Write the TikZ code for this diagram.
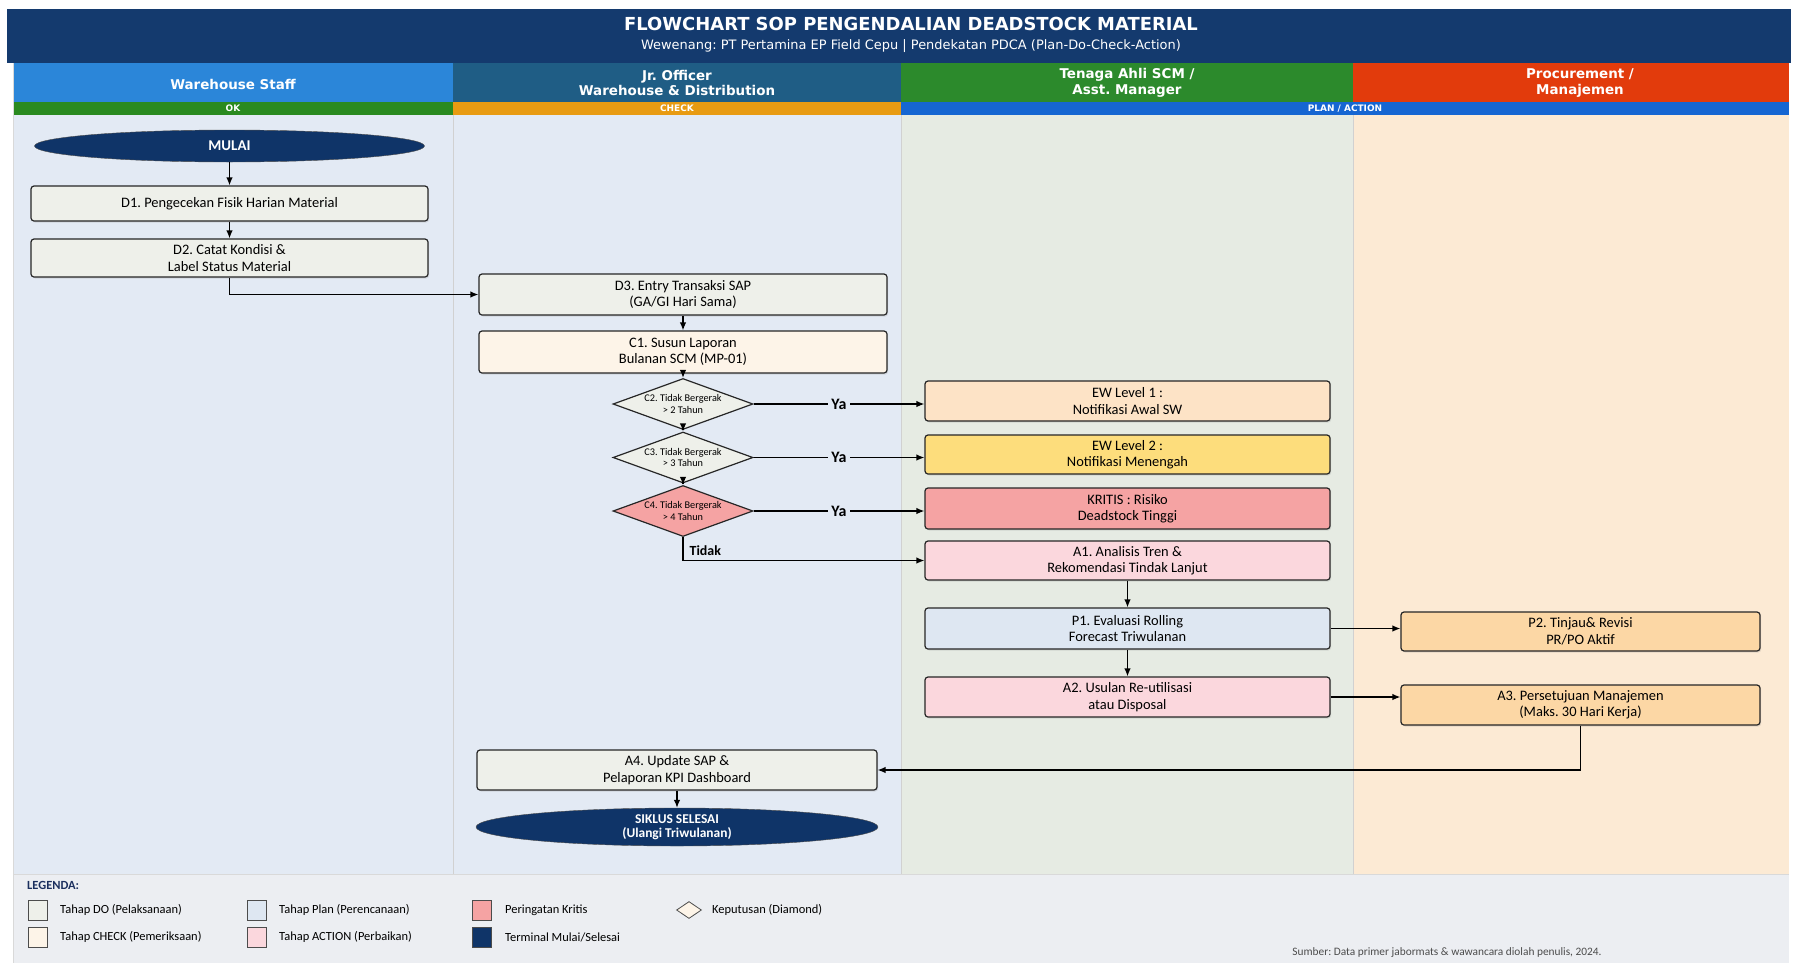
\documentclass[tikz,border=0pt]{standalone}
\usepackage{fontspec}
\setmainfont{Carlito}
\newfontfamily\hdrfont{DejaVu Sans}
\usepackage{tikz}
\usetikzlibrary{shapes.geometric,arrows.meta,shadows}

\definecolor{titlebar}{HTML}{143A6E}
\definecolor{hdrstaff}{HTML}{2B86D9}
\definecolor{hdrofficer}{HTML}{1F5D85}
\definecolor{hdrahli}{HTML}{2C8A2C}
\definecolor{hdrproc}{HTML}{E23B0C}
\definecolor{phaseok}{HTML}{2A8A1F}
\definecolor{phasecheck}{HTML}{E89B12}
\definecolor{phaseplan}{HTML}{1666D2}
\definecolor{laneblue}{HTML}{E3EAF4}
\definecolor{lanegreen}{HTML}{E6EBE3}
\definecolor{lanepeach}{HTML}{FCEAD4}
\definecolor{legendbg}{HTML}{ECEEF2}
\definecolor{legendhd}{HTML}{1B2F5E}
\definecolor{dofill}{HTML}{EEF0EA}
\definecolor{checkfill}{HTML}{FDF4E8}
\definecolor{planfill}{HTML}{DEE7F2}
\definecolor{actfill}{HTML}{FBD7DD}
\definecolor{critfill}{HTML}{F5A3A3}
\definecolor{ewonefill}{HTML}{FDE3C6}
\definecolor{ewtwofill}{HTML}{FDDD7C}
\definecolor{procfill}{HTML}{FCD7A5}
\definecolor{termfill}{HTML}{0F3468}

\begin{document}
\frenchspacing
\begin{tikzpicture}[x=1bp,y=-1bp,
   box/.style={draw=black!85, line width=1.2bp, rounded corners=3bp, align=center, inner ysep=2bp,
      font=\fontsize{14.5}{16.5}\selectfont,
      drop shadow={shadow xshift=1.2bp, shadow yshift=-1.5bp, opacity=0.2}},
   decision/.style={diamond, draw=black!85, line width=1.2bp, inner xsep=-5bp, inner ysep=-2bp, aspect=2.6,
      minimum width=140bp, minimum height=51bp, align=center, font=\fontsize{10.3}{11.5}\selectfont},
   terminal/.style={ellipse, draw=black!70, fill=termfill, text=white, align=center, inner sep=0pt},
   flow/.style={black, line width=1.3bp, -{Latex[length=8bp,width=6.5bp]}},
   lanehdr/.style={text=white, align=center, font=\hdrfont\bfseries\fontsize{13.5}{15.5}\selectfont},
   phasetxt/.style={text=white, font=\hdrfont\bfseries\fontsize{9}{10}\selectfont},
   yes/.style={fill=laneblue, inner sep=3bp, font=\bfseries\fontsize{16}{18}\selectfont},
   legbox/.style={draw=black!70, line width=0.8bp, minimum width=19bp, minimum height=20bp, inner sep=0pt, anchor=west},
   legtext/.style={right, font=\fontsize{12.5}{14}\selectfont, inner sep=0pt}]
  \useasboundingbox (0,0) rectangle (1798,963);
  \fill[white] (0,0) rectangle (1798,963);
  \fill[titlebar] (7,9) rectangle (1791,63);
   \node[text=white, font=\hdrfont\bfseries\fontsize{18}{21}\selectfont] (title) at (911,24) {FLOWCHART SOP PENGENDALIAN DEADSTOCK MATERIAL};
   \node[text=white, font=\hdrfont\fontsize{13}{15}\selectfont] (subtitle) at (911,46) {Wewenang: PT Pertamina EP Field Cepu | Pendekatan PDCA (Plan-Do-Check-Action)};
  % lanes
  \fill[hdrstaff] (13,63) rectangle (453,102);
  \fill[hdrofficer] (453,63) rectangle (901,102);
  \fill[hdrahli] (901,63) rectangle (1353,102);
  \fill[hdrproc] (1353,63) rectangle (1789,102);
   \node[lanehdr] (hstaff) at (233,84) {Warehouse Staff};
   \node[lanehdr] (hofficer) at (677,83) {Jr. Officer\\Warehouse \& Distribution};
   \node[lanehdr] (hahli) at (1127,83) {Tenaga Ahli SCM /\\Asst. Manager};
   \node[lanehdr] (hproc) at (1580,83) {Procurement /\\Manajemen};
  \fill[phaseok] (13,102) rectangle (453,115);
  \fill[phasecheck] (453,102) rectangle (901,115);
  \fill[phaseplan] (901,102) rectangle (1789,115);
   \node[phasetxt] (pok) at (233,108.5) {OK};
   \node[phasetxt] (pcheck) at (677,108.5) {CHECK};
   \node[phasetxt] (pplan) at (1345,108.5) {PLAN / ACTION};
  \fill[laneblue] (13,115) rectangle (901,874);
  \fill[lanegreen] (901,115) rectangle (1353,874);
  \fill[lanepeach] (1353,115) rectangle (1789,874);
  \fill[legendbg] (13,874) rectangle (1789,963);
  \draw[black!18, line width=0.7bp] (453,115) -- (453,874) (901,115) -- (901,874) (1353,115) -- (1353,874);
  \draw[black!15, line width=0.7bp] (13,63) -- (13,963) (13,874) -- (1789,874);

  \node[terminal, minimum width=390bp, minimum height=32bp, font=\bfseries\fontsize{15}{17}\selectfont] (mulai) at (229.5,146) {MULAI};
  \node[box, fill=dofill, minimum width=397bp, minimum height=35bp] (d1) at (229.5,203.5) {D1. Pengecekan Fisik Harian Material};
  \node[box, fill=dofill, minimum width=397bp, minimum height=38bp] (d2) at (229.5,258) {D2. Catat Kondisi \&\\Label Status Material};
  \node[box, fill=dofill, minimum width=408bp, minimum height=41bp] (d3) at (683,294.5) {D3. Entry Transaksi SAP\\(GA/GI Hari Sama)};
  \node[box, fill=checkfill, minimum width=408bp, minimum height=42bp] (c1) at (683,352) {C1. Susun Laporan\\Bulanan SCM (MP-01)};
  \node[decision, fill=dofill] (c2) at (683,404) {C2. Tidak Bergerak\\> 2 Tahun};
  \node[decision, fill=dofill] (c3) at (683,457.5) {C3. Tidak Bergerak\\> 3 Tahun};
  \node[decision, fill=critfill] (c4) at (683,511) {C4. Tidak Bergerak\\> 4 Tahun};

  \node[box, fill=ewonefill, minimum width=405bp, minimum height=40bp] (ew1) at (1127.5,401) {EW Level 1 :\\Notifikasi Awal SW};
  \node[box, fill=ewtwofill, minimum width=405bp, minimum height=39bp] (ew2) at (1127.5,454.5) {EW Level 2 :\\Notifikasi Menengah};
  \node[box, fill=critfill, minimum width=405bp, minimum height=41bp] (kritis) at (1127.5,508.5) {KRITIS : Risiko\\Deadstock Tinggi};
  \node[box, fill=actfill, minimum width=405bp, minimum height=39bp] (a1) at (1127.5,560.5) {A1. Analisis Tren \&\\Rekomendasi Tindak Lanjut};
  \node[box, fill=planfill, minimum width=405bp, minimum height=41bp] (p1) at (1127.5,628.5) {P1. Evaluasi Rolling\\Forecast Triwulanan};
  \node[box, fill=actfill, minimum width=405bp, minimum height=40bp] (a2) at (1127.5,697) {A2. Usulan Re-utilisasi\\atau Disposal};
  \node[box, fill=procfill, minimum width=359bp, minimum height=39bp] (p2) at (1580.5,631.5) {P2. Tinjau\& Revisi\\PR/PO Aktif};
  \node[box, fill=procfill, minimum width=359bp, minimum height=40bp] (a3) at (1580.5,705) {A3. Persetujuan Manajemen\\(Maks. 30 Hari Kerja)};
  \node[box, fill=dofill, minimum width=400bp, minimum height=40bp] (a4) at (677,770) {A4. Update SAP \&\\Pelaporan KPI Dashboard};
  \node[terminal, minimum width=402bp, minimum height=38bp, font=\bfseries\fontsize{13.5}{14.5}\selectfont] (selesai) at (677,827) {SIKLUS SELESAI\\(Ulangi Triwulanan)};

  \draw[flow] (mulai) -- (d1);
  \draw[flow] (d1) -- (d2);
  \draw[flow] (d2.south) |- (d3.west);
  \draw[flow] (d3) -- (c1);
  \draw[flow] (c1) -- (c2);
  \draw[flow] (c2) -- (c3);
  \draw[flow] (c3) -- (c4);
  \draw[flow] (c2.east) -- node[yes] {Ya} (c2.east -| ew1.west);
  \draw[flow] (c3.east) -- node[yes] {Ya} (c3.east -| ew2.west);
  \draw[flow] (c4.east) -- node[yes] {Ya} (c4.east -| kritis.west);
  \draw[flow] (c4.south) |- node[pos=0.5, above right, inner xsep=6bp, inner ysep=4bp, font=\bfseries\fontsize{14}{16}\selectfont] {Tidak} (a1.west);
  \draw[flow] (a1) -- (p1);
  \draw[flow] (p1.east) -- (p1.east -| p2.west);
  \draw[flow] (p1) -- (a2);
  \draw[flow] (a2.east) -- (a2.east -| a3.west);
  \draw[flow] (a3.south) |- (a4.east);
  \draw[flow] (a4) -- (selesai);

  % legend
  \node[right, inner sep=0pt, text=legendhd, font=\bfseries\fontsize{12.5}{14}\selectfont] (legenda) at (27,885) {LEGENDA:};
  \node[legbox, fill=dofill] (lgdo) at (27.5,910) {};
  \node[legtext] (lgdotx) at (60,910) {Tahap DO (Pelaksanaan)};
  \node[legbox, fill=checkfill] (lgcheck) at (27.5,937) {};
  \node[legtext] (lgchecktx) at (60,937) {Tahap CHECK (Pemeriksaan)};
  \node[legbox, fill=planfill] (lgplan) at (246.5,910) {};
  \node[legtext] (lgplantx) at (279,910) {Tahap Plan (Perencanaan)};
  \node[legbox, fill=actfill] (lgact) at (246.5,937) {};
  \node[legtext] (lgacttx) at (279,937) {Tahap ACTION (Perbaikan)};
  \node[legbox, fill=critfill] (lgcrit) at (472,910) {};
  \node[legtext] (lgcrittx) at (505,910) {Peringatan Kritis};
  \node[legbox, fill=termfill] (lgterm) at (472,937) {};
  \node[legtext] (lgtermtx) at (505,937) {Terminal Mulai/Selesai};
  \node[diamond, draw=black!70, line width=0.8bp, fill=checkfill, inner sep=0pt, minimum width=25bp, minimum height=17bp] (lgdec) at (689,910) {};
  \node[legtext] (lgdectx) at (712,910) {Keputusan (Diamond)};
  \node[text=black!70, font=\fontsize{11.4}{13}\selectfont] (sumber) at (1447,953) {Sumber: Data primer jabormats \& wawancara diolah penulis, 2024.};
\end{tikzpicture}
\end{document}
